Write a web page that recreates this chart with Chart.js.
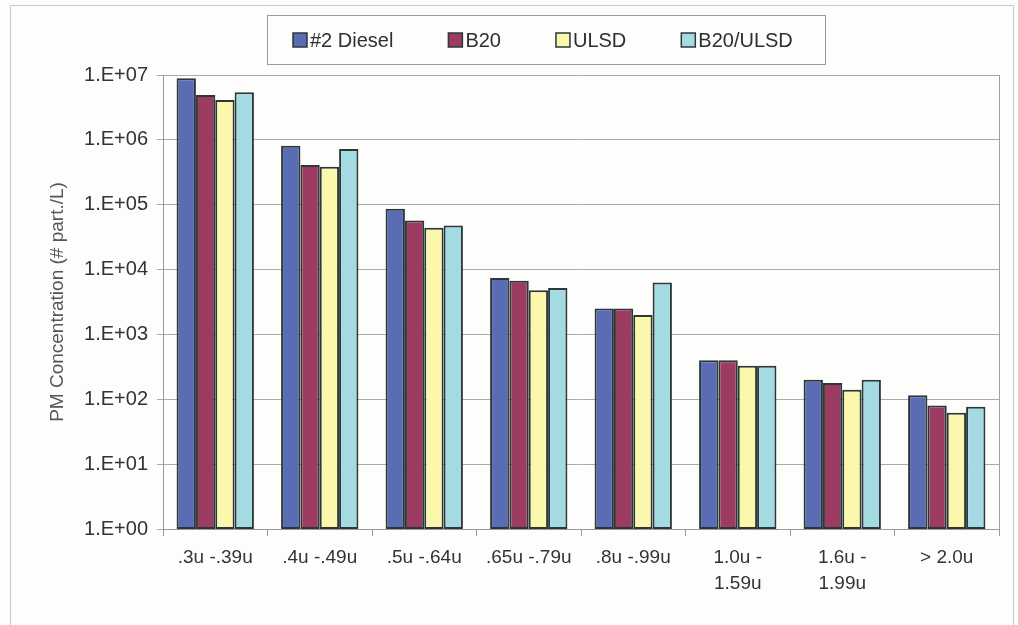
<!DOCTYPE html>
<html>
<head>
<meta charset="utf-8">
<script src="https://cdn.jsdelivr.net/npm/chart.js@4.4.0/dist/chart.umd.min.js"></script>
<style>
  html, body { margin: 0; padding: 0; background: #fdfdfb; }
  #wrap { width: 1018px; height: 625px; }
</style>
</head>
<body>
<div id="wrap"><canvas id="pmChart" width="1018" height="625"></canvas></div>
<script>
// particle size ranges (x categories)
const sizeRanges = ['.3u -.39u', '.4u -.49u', '.5u -.64u', '.65u -.79u', '.8u -.99u',
  ['1.0u -', '1.59u'], ['1.6u -', '1.99u'], '> 2.0u'];

// PM concentration, # particles per litre
const diesel2 = [8.9e6, 8.1e5, 8.7e4, 7.4e3, 2.5e3, 400, 200, 115];
const b20 = [4.9e6, 4.1e5, 5.7e4, 6.7e3, 2.5e3, 400, 178, 80];
const ulsd = [4.1e6, 3.85e5, 4.4e4, 4.8e3, 2.0e3, 330, 140, 62];
const b20Ulsd = [5.4e6, 7.2e5, 4.8e4, 5.2e3, 6.3e3, 330, 200, 77];

const yTicks = [1, 10, 100, 1e3, 1e4, 1e5, 1e6, 1e7];

const FONT = "'Liberation Sans', Arial, sans-serif";
const edge = '#2c3838';

// page frame + background
const framePlugin = {
  id: 'frame',
  beforeDraw(chart) {
    const c = chart.ctx;
    c.save();
    c.fillStyle = '#fdfdfb';
    c.fillRect(0, 0, chart.width, chart.height);
    c.strokeStyle = '#c9c9c9';
    c.lineWidth = 1;
    c.strokeRect(10.5, 5.5, 1003, 640);
    c.restore();
  },
  afterDraw(chart) {
    // right edge of plot area
    const a = chart.chartArea;
    const c = chart.ctx;
    c.save();
    c.strokeStyle = '#a0a0a0';
    c.lineWidth = 1;
    c.beginPath();
    c.moveTo(Math.round(a.right) + 0.5, a.top);
    c.lineTo(Math.round(a.right) + 0.5, a.bottom);
    c.stroke();
    c.restore();
  }
};

// boxed legend like the original
const boxLegend = {
  id: 'boxLegend',
  afterDraw(chart) {
    const c = chart.ctx;
    c.save();
    c.strokeStyle = '#9a9a9a';
    c.lineWidth = 1;
    c.strokeRect(267.5, 15.5, 558, 49);
    c.font = '20px ' + FONT;
    c.textBaseline = 'middle';
    let x = 293;
    const y = 40;
    chart.data.datasets.forEach(ds => {
      c.fillStyle = ds.backgroundColor;
      c.fillRect(x, y - 7, 14, 14);
      c.strokeStyle = edge;
      c.lineWidth = 1.5;
      c.strokeRect(x, y - 7, 14, 14);
      c.fillStyle = '#2e2e2e';
      c.fillText(ds.label, x + 17, y + 1);
      x += 17 + c.measureText(ds.label).width + 55;
    });
    c.restore();
  }
};

function barSet(label, data, color) {
  return {
    label: label,
    data: data,
    backgroundColor: color,
    borderColor: edge,
    borderWidth: 2,
    borderSkipped: false,
    barPercentage: 1.0,
    categoryPercentage: 0.74
  };
}

const ctx = document.getElementById('pmChart').getContext('2d');
const pmChart = new Chart(ctx, {
  type: 'bar',
  data: {
    labels: sizeRanges,
    datasets: [
      barSet('#2 Diesel', diesel2, '#5a6db4'),
      barSet('B20', b20, '#9c3c62'),
      barSet('ULSD', ulsd, '#fbf8ad'),
      barSet('B20/ULSD', b20Ulsd, '#a4dbe3')
    ]
  },
  options: {
    responsive: false,
    devicePixelRatio: 1,
    animation: false,
    layout: { padding: { left: 10, right: 19, top: 75, bottom: 0 } },
    plugins: {
      legend: { display: false },
      tooltip: { enabled: false }
    },
    scales: {
      x: {
        grid: { drawOnChartArea: false, drawTicks: true, tickLength: 7, color: '#999' },
        border: { color: '#999' },
        ticks: {
          color: '#333',
          font: { family: FONT, size: 19, lineHeight: 1.4 },
          padding: 8,
          maxRotation: 0,
          autoSkip: false
        },
        afterFit(scale) { scale.height = 96; }
      },
      y: {
        type: 'logarithmic',
        min: 1,
        max: 1e7,
        afterBuildTicks(scale) {
          scale.ticks = yTicks.map(v => ({ value: v }));
        },
        afterFit(scale) { scale.width = 153; },
        grid: { color: '#ababab', tickLength: 6 },
        border: { color: '#999' },
        ticks: {
          color: '#333',
          font: { family: FONT, size: 20 },
          padding: 9,
          callback: v => '1.E+' + String(Math.round(Math.log10(v))).padStart(2, '0')
        },
        title: {
          display: true,
          text: 'PM Concentration (# part./L)',
          color: '#555',
          font: { family: FONT, size: 19 },
          padding: { top: 36, bottom: 0 }
        }
      }
    }
  },
  plugins: [framePlugin, boxLegend]
});
</script>
</body>
</html>
